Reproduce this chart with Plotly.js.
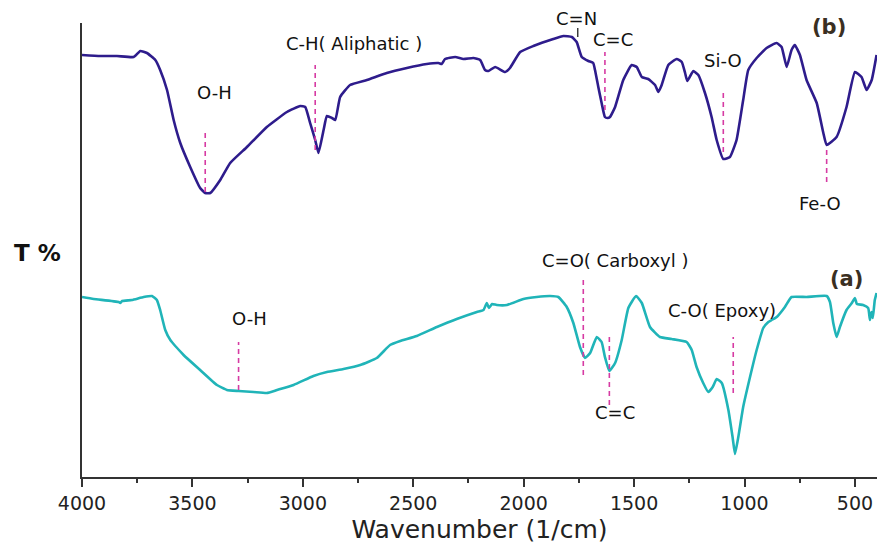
<!DOCTYPE html>
<html>
<head>
<meta charset="utf-8">
<script src="https://cdn.plot.ly/plotly-3.0.1.min.js"></script>
<style>html,body{margin:0;padding:0;background:#fff;}#chart{width:877px;height:544px;}</style>
</head>
<body>
<div id="chart"></div>
<script>
// Spectrum (b): upper curve
const wnB = [4000,3917,3842,3766,3736,3706,3668,3646,3615,3585,3555,3510,3465,3442,3419,3374,3329,3253,3163,3072,3012,2989,2967,2944,2929,2906,2891,2868,2853,2831,2786,2710,2620,2529,2439,2386,2371,2356,2310,2273,2228,2197,2175,2160,2129,2084,2062,2016,1956,1866,1820,1782,1760,1737,1707,1685,1677,1662,1647,1632,1620,1609,1586,1549,1511,1488,1465,1436,1405,1390,1375,1345,1307,1284,1269,1259,1232,1209,1179,1149,1126,1096,1066,1036,1006,983,945,900,855,832,809,787,772,749,719,673,643,628,583,538,500,470,447,424,402];
const tB  = [422,421,421,420,426,424,417,407,387,357,334,310,289,284,284,297,314,330,350,365,371,370,354,337,324,347,361,359,357,380,392,397,404,409,413,414,413,418,420,418,419,417,407,406,410,405,409,425,431,438,441,440,435,420,416,414,407,390,374,360,359,360,370,397,412,410,400,398,392,385,392,412,418,415,404,396,406,402,384,360,337,318,320,337,377,407,419,429,434,430,410,427,432,422,397,374,344,332,340,370,405,400,387,397,422];

// Spectrum (a): lower curve
const wnA = [4000,3947,3834,3827,3818,3774,3721,3683,3661,3646,3623,3600,3540,3465,3389,3344,3291,3223,3163,3117,3042,2952,2891,2816,2740,2665,2605,2559,2484,2393,2303,2212,2182,2167,2157,2143,2122,2076,2001,1941,1880,1843,1805,1775,1745,1722,1699,1669,1647,1632,1612,1586,1556,1526,1491,1465,1428,1383,1330,1262,1239,1217,1187,1164,1144,1126,1103,1073,1054,1043,1028,1006,975,945,915,892,877,854,817,787,719,628,613,598,583,568,538,514,500,491,463,440,432,425,419,410,402];
const tA  = [180,178,175,174,176,177,180,181,177,167,147,137,122,107,92,87,86,85,84,87,92,101,105,108,112,119,132,136,141,150,158,165,167,174,169,173,172,172,178,180,181,180,170,154,130,119,124,140,135,120,106,114,137,169,181,174,150,140,138,135,127,110,94,85,90,98,94,67,40,23,40,70,100,127,149,155,157,160,170,180,180,181,175,154,140,150,167,174,179,173,172,169,157,165,159,177,184];

// Band markers (dashed guides)
const markWn   = [3442,2944,1632,1096,628,3291,1730,1612,1051];
const markTop  = [345,412,425,384,330,135,200,140,140];
const markBot  = [285,327,367,325,295,87,102,72,84];
// C=N tick
const cnWn = [1755], cnTop = [449], cnBot = [440];

// Band labels
const labText = ["O-H","C-H( Aliphatic )","C=N","C=C","Si-O","Fe-O","O-H","C=O( Carboxyl )","C=C","C-O( Epoxy)"];
const labWn   = [3401,2767,1760,1595,1098,658,3242,1584,1586,1100];
const labT    = [385,434,459,438,417,274,159,217,65,167];
// Curve tags
const tagText = ["(b)","(a)"];
const tagWn   = [617,540];
const tagT    = [450,198];

const xTicks = [4000,3500,3000,2500,2000,1500,1000,500];
const yRange = [0, 454];

const FONT = "DejaVu Sans, Arial, sans-serif";

const traces = [
  {x: wnB, y: tB, mode: "lines", line: {color: "#2e1c8c", width: 2.6, shape: "spline", smoothing: 0.4}, hoverinfo: "skip", cliponaxis: false},
  {x: wnA, y: tA, mode: "lines", line: {color: "#20b4b8", width: 2.6, shape: "spline", smoothing: 0.4}, hoverinfo: "skip"}
];

const shapes = [];
markWn.forEach((w, i) => shapes.push({type: "line", xref: "x", yref: "y", x0: w, x1: w, y0: markBot[i], y1: markTop[i],
  line: {color: "#d63ba3", width: 1.6, dash: "5px,4px"}}));
cnWn.forEach((w, i) => shapes.push({type: "line", xref: "x", yref: "y", x0: w, x1: w, y0: cnBot[i], y1: cnTop[i],
  line: {color: "#222", width: 1.3}}));

const annotations = [];
labText.forEach((t, i) => {
  const above = labT[i] > yRange[1];
  annotations.push({x: labWn[i], y: above ? labT[i] / yRange[1] : labT[i], xref: "x", yref: above ? "paper" : "y",
    text: t, showarrow: false, font: {family: FONT, size: 18, color: "#111"}, xanchor: "center", yanchor: "middle"});
});
tagText.forEach((t, i) => annotations.push({x: tagWn[i], y: tagT[i], xref: "x", yref: "y", text: "<b>" + t + "</b>", showarrow: false,
  font: {family: FONT, size: 21, color: "#3a2f22"}, xanchor: "center", yanchor: "middle"}));
annotations.push({x: -0.0566, y: 0.493, xref: "paper", yref: "paper", text: "<b>T %</b>", showarrow: false,
  font: {family: FONT, size: 23, color: "#111"}, xanchor: "center", yanchor: "middle"});

const layout = {
  width: 877, height: 544,
  margin: {l: 82, r: 0, t: 23, b: 67, pad: 0},
  paper_bgcolor: "#fff", plot_bgcolor: "#fff",
  showlegend: false,
  font: {family: FONT, color: "#222"},
  xaxis: {
    range: [4000, 400], tickvals: xTicks, ticktext: xTicks.map(String),
    showline: true, linecolor: "#333", linewidth: 2,
    ticks: "outside", ticklen: 8, tickwidth: 2, tickcolor: "#333",
    minor: {ticks: "outside", ticklen: 4, tickwidth: 2, tickcolor: "#333", dtick: 250, tick0: 0},
    showgrid: false, zeroline: false,
    tickfont: {family: FONT, size: 19, color: "#222"},
    title: {text: "Wavenumber (1/cm)", font: {family: FONT, size: 25, color: "#222"}, standoff: 8}
  },
  yaxis: {
    range: yRange, showline: true, linecolor: "#333", linewidth: 2,
    showticklabels: false, ticks: "", showgrid: false, zeroline: false
  },
  shapes: shapes,
  annotations: annotations
};

Plotly.newPlot("chart", traces, layout, {displayModeBar: false, staticPlot: true});
</script>
</body>
</html>
